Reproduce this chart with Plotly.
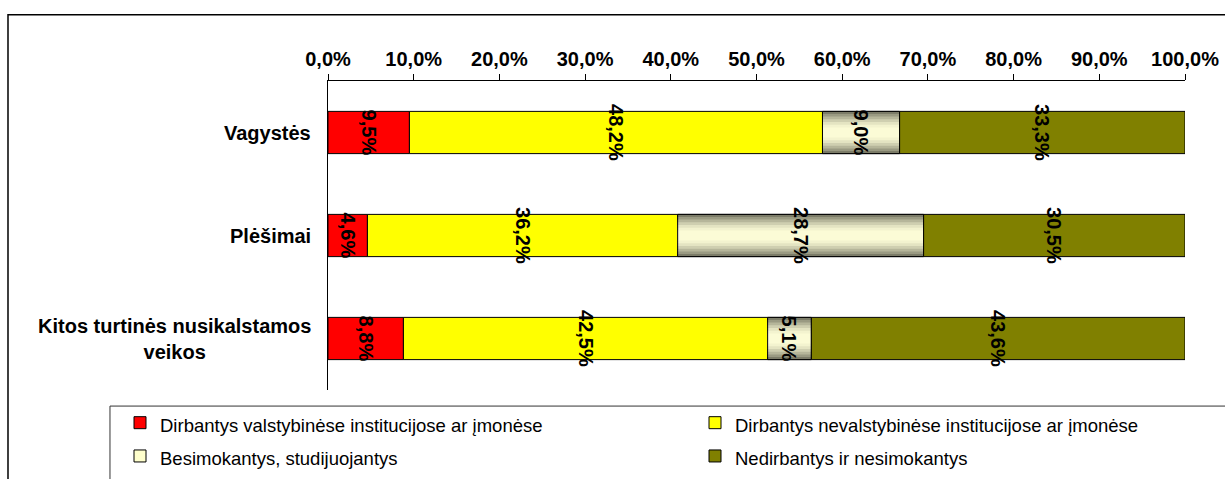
import plotly.graph_objects as go

categories = ["Vagystės", "Plėšimai", "Kitos turtinės nusikalstamos<br>veikos"]
series_names = [
    "Dirbantys valstybinėse institucijose ar įmonėse",
    "Dirbantys nevalstybinėse institucijose ar įmonėse",
    "Besimokantys, studijuojantys",
    "Nedirbantys ir nesimokantys",
]
valst = [9.5, 4.6, 8.8]
nevalst = [48.2, 36.2, 42.5]
besimok = [9.0, 28.7, 5.1]
nedirb = [33.3, 30.5, 43.6]
tick_vals = [0, 10, 20, 30, 40, 50, 60, 70, 80, 90, 100]
tick_labels = ["0,0%", "10,0%", "20,0%", "30,0%", "40,0%", "50,0%",
               "60,0%", "70,0%", "80,0%", "90,0%", "100,0%"]

series = [valst, nevalst, besimok, nedirb]
colors = ["#FF0000", "#FFFF00", "#FFFFCC", "#808000"]

FONT = "Liberation Sans, Arial, sans-serif"
BAR_W = 0.41
label_font = dict(family=FONT, size=20, color="black", weight="bold")

# cumulative bases
bases = []
run = [0.0] * len(categories)
for s in series:
    bases.append(list(run))
    run = [r + v for r, v in zip(run, s)]

def legend_name(n):
    return '<span style="font-size:18.5px">' + n + '</span>'

fig = go.Figure()

def add_plain(i):
    fig.add_trace(go.Bar(
        y=categories, x=series[i], base=bases[i], orientation="h",
        name=legend_name(series_names[i]), width=BAR_W,
        marker=dict(color=colors[i], line=dict(color="black", width=1)),
        text=series[i], texttemplate="%{x:.1f}%", textposition="inside",
        insidetextanchor="middle", textangle=90, constraintext="none",
        textfont=label_font, cliponaxis=False, hoverinfo="skip",
    ))

add_plain(0)
add_plain(1)

# gradient series (Besimokantys): legend base + shading layers + outline
fig.add_trace(go.Bar(
    y=categories, x=besimok, base=bases[2], orientation="h",
    name=legend_name(series_names[2]), width=BAR_W,
    marker=dict(color=colors[2], line=dict(color="black", width=1)),
    hoverinfo="skip",
))
grad_cols = ["#7c7c68", "#9a9a82", "#b6b69a", "#cfcfb0", "#e4e4c2", "#f3f3cf", "#fbfbd6"]
grad_w = [BAR_W, BAR_W * 0.88, BAR_W * 0.76, BAR_W * 0.63, BAR_W * 0.5, BAR_W * 0.37, BAR_W * 0.24]
for c, w in zip(grad_cols, grad_w):
    fig.add_trace(go.Bar(
        y=categories, x=besimok, base=bases[2], orientation="h",
        width=w, showlegend=False,
        marker=dict(color=c, line=dict(width=0)), hoverinfo="skip",
    ))
fig.add_trace(go.Bar(
    y=categories, x=besimok, base=bases[2], orientation="h",
    width=BAR_W, showlegend=False,
    marker=dict(color="rgba(0,0,0,0)", line=dict(color="black", width=1)),
    text=besimok, texttemplate="%{x:.1f}%", textposition="inside",
    insidetextanchor="middle", textangle=90, constraintext="none",
    textfont=label_font, cliponaxis=False, hoverinfo="skip",
))

add_plain(3)

# category labels
for cat in categories:
    fig.add_annotation(
        x=-0.0175, xref="paper", y=cat, yref="y", text=cat,
        xanchor="right", yanchor="middle", align="center", showarrow=False,
        font=dict(family=FONT, size=20, color="black", weight="bold"),
    )

# outer frame
fig.add_shape(type="rect", xref="paper", yref="paper",
              x0=-0.3734, x1=1.2, y0=-0.6, y1=1.214,
              line=dict(color="black", width=1.5), layer="below")
# legend frame
fig.add_shape(type="rect", xref="paper", yref="paper",
              x0=-0.2544, x1=1.2, y0=-0.6, y1=-0.052,
              line=dict(color="#333333", width=1), layer="below")

fig.update_layout(
    width=1225, height=479,
    barmode="overlay",
    separators=", ",
    paper_bgcolor="white", plot_bgcolor="white",
    margin=dict(l=328, r=40, t=81, b=89, autoexpand=False),
    font=dict(family=FONT, color="black"),
    showlegend=True,
    legend=dict(
        orientation="h", x=-0.2427, xanchor="left", y=-0.0357, yanchor="top",
        entrywidth=530, entrywidthmode="pixels",
        font=dict(family=FONT, size=23.3, color="black"),
        borderwidth=0, bgcolor="rgba(0,0,0,0)",
        traceorder="normal",
    ),
    xaxis=dict(
        side="top", range=[0, 100], tickvals=tick_vals, ticktext=tick_labels,
        showgrid=False, zeroline=False,
        showline=True, linecolor="black", linewidth=1,
        ticks="outside", ticklen=6, tickcolor="black",
        tickfont=dict(family=FONT, size=20, color="black", weight="bold"),
        fixedrange=True,
    ),
    yaxis=dict(
        type="category", categoryarray=categories, range=[2.5, -0.5],
        showticklabels=False, showgrid=False, zeroline=False,
        showline=True, linecolor="black", linewidth=1, ticks="",
        fixedrange=True,
    ),
)

fig.write_html("out.html",
               config={"displayModeBar": False, "staticPlot": True},
               post_script="document.body.style.margin='0';document.body.style.overflow='hidden';")
